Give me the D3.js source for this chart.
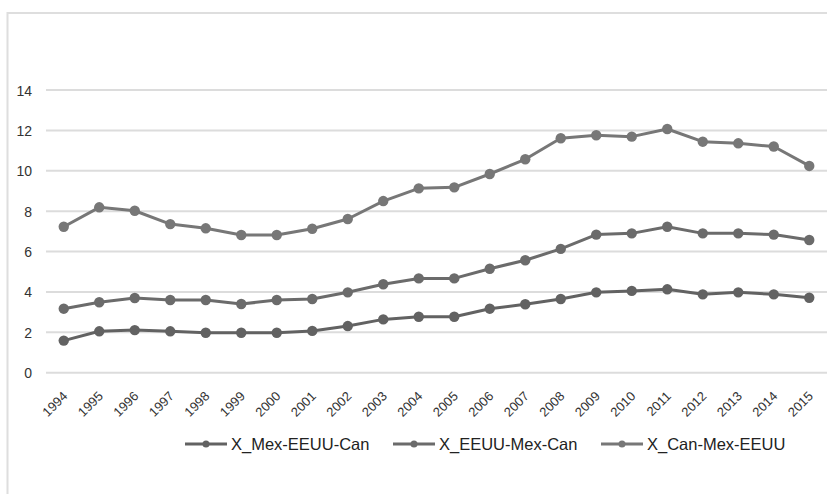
<!DOCTYPE html>
<html>
<head>
<meta charset="utf-8">
<script src="https://cdn.jsdelivr.net/npm/d3@7/dist/d3.min.js"></script>
<style>
  html, body { margin: 0; padding: 0; background: #fff; }
  svg { display: block; }
</style>
</head>
<body>
<svg id="chart" width="827" height="494"></svg>
<script>
// Years on the x axis
const years = ["1994","1995","1996","1997","1998","1999","2000","2001","2002","2003","2004",
               "2005","2006","2007","2008","2009","2010","2011","2012","2013","2014","2015"];

// Series values
const mexEeuuCan = [1.59,2.05,2.11,2.05,1.98,1.98,1.98,2.07,2.31,2.64,2.77,
                    2.77,3.17,3.39,3.65,3.98,4.05,4.13,3.88,3.98,3.88,3.71];
const eeuuMexCan = [3.17,3.49,3.70,3.60,3.60,3.40,3.60,3.65,3.98,4.38,4.67,
                    4.67,5.15,5.57,6.13,6.84,6.90,7.23,6.90,6.90,6.84,6.57];
const canMexEeuu = [7.23,8.19,8.02,7.36,7.15,6.82,6.82,7.13,7.61,8.50,9.13,
                    9.18,9.84,10.57,11.61,11.76,11.69,12.07,11.44,11.36,11.20,10.24];

const seriesNames = ["X_Mex-EEUU-Can", "X_EEUU-Mex-Can", "X_Can-Mex-EEUU"];
const yTicks = [0, 2, 4, 6, 8, 10, 12, 14];

const series = [
  { name: seriesNames[0], values: mexEeuuCan, color: "#626262" },
  { name: seriesNames[1], values: eeuuMexCan, color: "#6b6b6b" },
  { name: seriesNames[2], values: canMexEeuu, color: "#777777" }
];

const svg = d3.select("#chart");
const font = "'Liberation Sans', Arial, Helvetica, sans-serif";

// Outer frame (only the top and left edges are visible)
svg.append("rect")
  .attr("x", 7.5).attr("y", 13)
  .attr("width", 900).attr("height", 600)
  .attr("fill", "none")
  .attr("stroke", "#dedede")
  .attr("stroke-width", 2);

const plotLeft = 46, plotRight = 827;
const x = d3.scalePoint().domain(years).range([plotLeft, plotRight]).padding(0.5);
const y = d3.scaleLinear().domain([0, 14]).range([372.7, 90]);

// Horizontal gridlines
svg.append("g")
  .selectAll("line")
  .data(yTicks)
  .join("line")
  .attr("x1", plotLeft).attr("x2", plotRight)
  .attr("y1", d => y(d)).attr("y2", d => y(d))
  .attr("stroke", "#dcdcdc")
  .attr("stroke-width", 2);

// Y axis labels
const yAxis = d3.axisLeft(y).tickValues(yTicks).tickSize(0).tickPadding(0);
svg.append("g")
  .attr("transform", "translate(32,0)")
  .call(yAxis)
  .call(g => g.select(".domain").remove())
  .call(g => g.selectAll("text")
    .attr("fill", "#333")
    .attr("font-family", font)
    .attr("font-size", 14)
    .attr("dy", "0.36em"));

// X axis labels, rotated 45 degrees
const xAxis = d3.axisBottom(x).tickSize(0).tickPadding(0);
svg.append("g")
  .attr("transform", "translate(0,397)")
  .call(xAxis)
  .call(g => g.select(".domain").remove())
  .call(g => g.selectAll("text")
    .attr("fill", "#333")
    .attr("font-family", font)
    .attr("font-size", 13)
    .attr("text-anchor", "end")
    .attr("y", 0)
    .attr("dy", 0)
    .attr("transform", "translate(4,0) rotate(-45)"));

// Lines and markers
const line = d3.line()
  .x((d, i) => x(years[i]))
  .y(d => y(d));

const sg = svg.append("g")
  .selectAll("g")
  .data(series)
  .join("g");

sg.append("path")
  .attr("d", d => line(d.values))
  .attr("fill", "none")
  .attr("stroke", d => d.color)
  .attr("stroke-width", 3)
  .attr("stroke-linejoin", "round");

sg.selectAll("circle")
  .data(d => d.values.map((v, i) => ({ v, i, color: d.color })))
  .join("circle")
  .attr("cx", d => x(years[d.i]))
  .attr("cy", d => y(d.v))
  .attr("r", 5.2)
  .attr("fill", d => d.color);

// Legend
const legendX = [185, 393, 601];
const legendY = 444;
const lg = svg.append("g")
  .selectAll("g")
  .data(series)
  .join("g")
  .attr("transform", (d, i) => `translate(${legendX[i]},${legendY})`);

lg.append("line")
  .attr("x1", 0).attr("x2", 42)
  .attr("stroke", d => d.color)
  .attr("stroke-width", 3);
lg.append("circle")
  .attr("cx", 21).attr("r", 3.5)
  .attr("fill", d => d.color);
lg.append("text")
  .attr("x", 46)
  .attr("dy", "0.36em")
  .attr("fill", "#222")
  .attr("font-family", font)
  .attr("font-size", 16.5)
  .text(d => d.name);
</script>
</body>
</html>
